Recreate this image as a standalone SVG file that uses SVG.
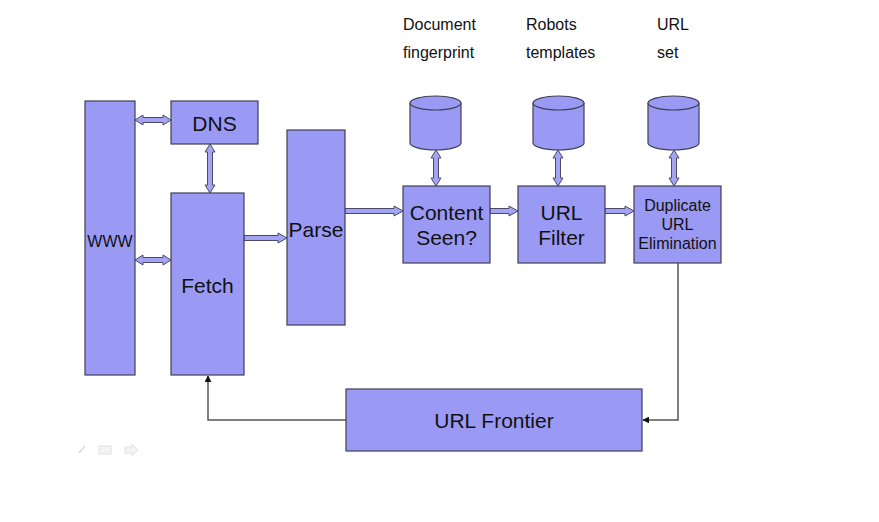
<svg xmlns="http://www.w3.org/2000/svg" width="879" height="522" viewBox="0 0 879 522">
<style>
.box{fill:#9a9af5;stroke:#3f3f55;stroke-width:1.2}
.ar{fill:#a4a4f5;stroke:#4a4a66;stroke-width:1}
.t{font-family:"Liberation Sans",Arial,sans-serif;fill:#111;text-anchor:middle}
.lbl{font-family:"Liberation Sans",Arial,sans-serif;fill:#111;font-size:16px}
.ln{fill:none;stroke:#555;stroke-width:1.5}
</style>
<defs>
<marker id="ah" viewBox="0 0 10 10" refX="9" refY="5" markerWidth="7" markerHeight="7" orient="auto" markerUnits="userSpaceOnUse"><path d="M0,0L10,5L0,10z" fill="#111"/></marker>
</defs>
<rect width="879" height="522" fill="#fff"/>
<g class="lbl">
<text x="403" y="30">Document</text>
<text x="403" y="58">fingerprint</text>
<text x="526" y="30">Robots</text>
<text x="526" y="58">templates</text>
<text x="657" y="30">URL</text>
<text x="657" y="58">set</text>
</g>
<g id="connectors">
<polygon class="ar" points="135,120 143,115 143,117.5 163,117.5 163,115 171,120 163,125 163,122.5 143,122.5 143,125"/>
<polygon class="ar" points="135,260 143,255 143,257.5 163,257.5 163,255 171,260 163,265 163,262.5 143,262.5 143,265"/>
<polygon class="ar" points="210,144 215,152 212.5,152 212.5,185 215,185 210,193 205,185 207.5,185 207.5,152 205,152"/>
<polygon class="ar" points="244,235.5 278,235.5 278,233 287,238 278,243 278,240.5 244,240.5"/>
<polygon class="ar" points="345,208.5 394,208.5 394,206 403,211 394,216 394,213.5 345,213.5"/>
<polygon class="ar" points="490,208.5 509,208.5 509,206 518,211 509,216 509,213.5 490,213.5"/>
<polygon class="ar" points="605,208.5 625,208.5 625,206 634,211 625,216 625,213.5 605,213.5"/>
<polygon class="ar" points="436,150 441,158 438.5,158 438.5,178 441,178 436,186 431,178 433.5,178 433.5,158 431,158"/>
<polygon class="ar" points="558,150 563,158 560.5,158 560.5,178 563,178 558,186 553,178 555.5,178 555.5,158 553,158"/>
<polygon class="ar" points="674,150 679,158 676.5,158 676.5,178 679,178 674,186 669,178 671.5,178 671.5,158 669,158"/>
<polyline class="ln" points="678,263 678,420 643,420" marker-end="url(#ah)"/>
<polyline class="ln" points="346,420 208,420 208,376" marker-end="url(#ah)"/>
</g>
<g id="www"><rect class="box" x="85" y="101" width="50" height="274"/><text class="t" x="110" y="247" font-size="16">WWW</text></g>
<g id="dns"><rect class="box" x="171" y="101" width="87" height="43"/><text class="t" x="214.5" y="131" font-size="21">DNS</text></g>
<g id="fetch"><rect class="box" x="171" y="193" width="73" height="182"/><text class="t" x="207.5" y="293" font-size="21">Fetch</text></g>
<g id="parse"><rect class="box" x="287" y="130" width="58" height="195"/><text class="t" x="316" y="237" font-size="21">Parse</text></g>
<g id="content"><rect class="box" x="403" y="186" width="87" height="77"/><text class="t" x="446.5" y="220" font-size="21">Content</text><text class="t" x="446.5" y="245" font-size="21">Seen?</text></g>
<g id="urlfilter"><rect class="box" x="518" y="186" width="87" height="77"/><text class="t" x="561.5" y="220" font-size="21">URL</text><text class="t" x="561.5" y="245" font-size="21">Filter</text></g>
<g id="dupelim"><rect class="box" x="634" y="186" width="87" height="77"/><text class="t" x="677.5" y="211" font-size="16">Duplicate</text><text class="t" x="677.5" y="230" font-size="16">URL</text><text class="t" x="677.5" y="249" font-size="16">Elimination</text></g>
<g id="frontier"><rect class="box" x="346" y="389" width="296" height="62"/><text class="t" x="494" y="428" font-size="21">URL Frontier</text></g>
<g id="db1"><path class="box" d="M410,103 L410,143 A25.5,7 0 0 0 461,143 L461,103"/><ellipse class="box" cx="435.5" cy="103" rx="25.5" ry="7"/></g>
<g id="db2"><path class="box" d="M533,103 L533,143 A25.5,7 0 0 0 584,143 L584,103"/><ellipse class="box" cx="558.5" cy="103" rx="25.5" ry="7"/></g>
<g id="db3"><path class="box" d="M648,103 L648,143 A25.5,7 0 0 0 699,143 L699,103"/><ellipse class="box" cx="673.5" cy="103" rx="25.5" ry="7"/></g>
<g id="controls" opacity="0.35">
<line x1="79" y1="453" x2="85" y2="446" stroke="#999" stroke-width="1.5"/>
<rect x="99" y="446" width="12" height="8" fill="#ddd" stroke="#aaa"/>
<polygon points="125,447 132,447 132,444 138,450 132,456 132,453 125,453" fill="#ddd" stroke="#aaa"/>
</g>
</svg>
